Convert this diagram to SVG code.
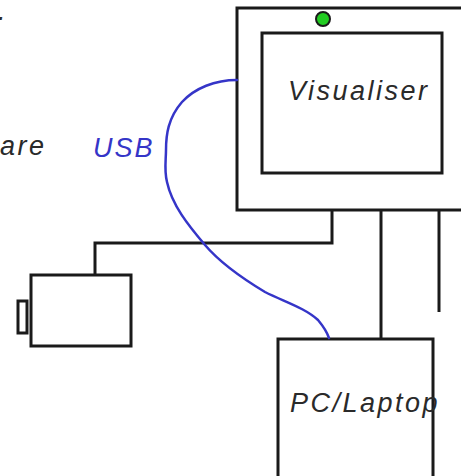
<svg xmlns="http://www.w3.org/2000/svg" width="461" height="476" viewBox="0 0 461 476">
<style>
.box{fill:#fff;stroke:#1a1a1a;stroke-width:3}
.wire{fill:none;stroke:#1a1a1a;stroke-width:3}
.lbl{font-family:"Liberation Sans",Arial,sans-serif;font-style:italic;font-size:27px;fill:#2a2a2a;letter-spacing:2.5px}
.usb{fill:none;stroke:#3535c8;stroke-width:2.5;stroke-linejoin:round;stroke-linecap:round}
</style>
<rect width="461" height="476" fill="#fff"/>
<text class="lbl" x="-2" y="20" style="letter-spacing:0">.</text>
<text class="lbl" x="0" y="155">are</text>
<g id="connectors">
<polyline class="wire" points="332,210 332,243 95,243 95,275"/>
<line class="wire" x1="381" y1="210" x2="381" y2="339"/>
<line class="wire" x1="439" y1="210" x2="439" y2="312"/>
</g>
<g id="visualiser">
<rect class="box" x="237" y="8" width="240" height="202"/>
<rect class="box" x="262" y="33" width="180" height="140"/>
<circle cx="323" cy="19" r="7" fill="#22cc22" stroke="#1a1a1a" stroke-width="2"/>
<text class="lbl" x="288" y="100">Visualiser</text>
</g>
<g id="camera">
<rect class="box" x="18" y="301" width="9" height="32"/>
<rect class="box" x="31" y="275" width="100" height="71"/>
</g>
<g id="pc">
<rect class="box" x="278" y="339" width="155" height="150"/>
<text class="lbl" x="290" y="412">PC/Laptop</text>
</g>
<g id="usb">
<path class="usb" d="M237,80 C215,80 195,88 182,102 C168,118 166,135 166,150 C166,160 164,170 167,182 C172,205 188,225 205,245 C222,265 245,280 265,292 C285,302 305,308 318,320 C323,326 327,332 329,338"/>
<text x="93" y="157" style="font-family:'Liberation Sans',Arial,sans-serif;font-style:italic;font-size:27px;fill:#3535c8;letter-spacing:2px">USB</text>
</g>
</svg>
